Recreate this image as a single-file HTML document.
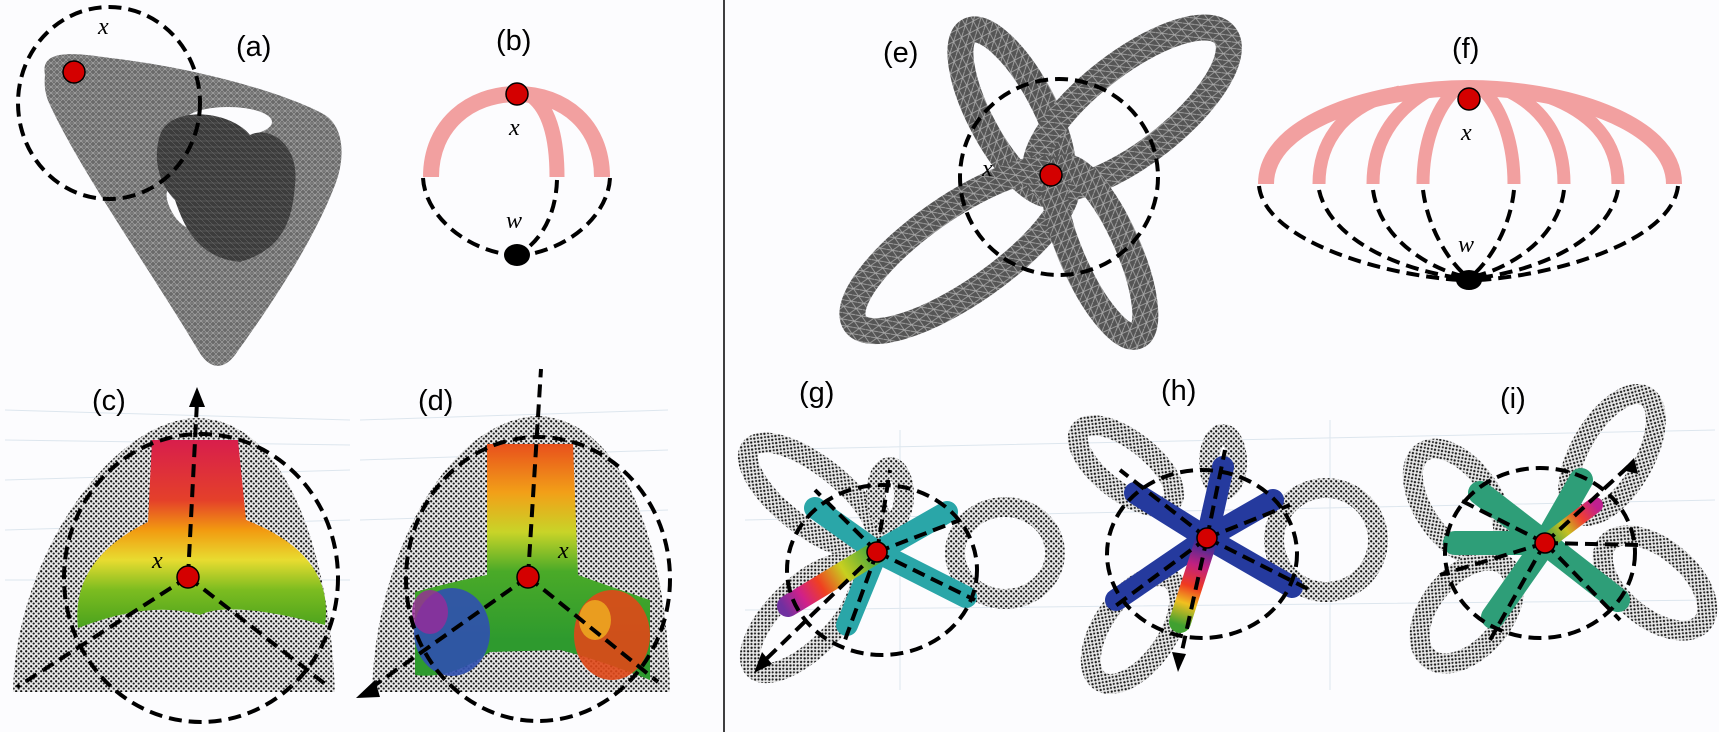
<!DOCTYPE html>
<html><head><meta charset="utf-8"><style>
html,body{margin:0;padding:0;background:#fcfcfe;}
svg{display:block;}
text{font-family:"Liberation Sans",sans-serif;}
.lbl{font-size:29px;fill:#000;}
.it{font-family:"Liberation Serif",serif;font-style:italic;font-size:24px;fill:#000;}
.dash{fill:none;stroke:#000;stroke-width:4;stroke-dasharray:13 7;}
</style></head><body>
<svg width="1719" height="732" viewBox="0 0 1719 732">
<defs>
 <pattern id="dots" width="5" height="5" patternUnits="userSpaceOnUse">
  <rect width="5" height="5" fill="#e8e8e8"/>
  <circle cx="1.2" cy="1.3" r="1.15" fill="#111"/>
  <circle cx="3.7" cy="3.6" r="1.05" fill="#222"/>
 </pattern>
 <pattern id="mesh" width="6" height="6" patternUnits="userSpaceOnUse">
  <rect width="6" height="6" fill="#6a6a6a"/>
  <path d="M0 0L6 6M6 0L0 6M0 3H6" stroke="#a8a8a8" stroke-width="0.6"/>
 </pattern>
 <pattern id="mesh2" width="9" height="9" patternUnits="userSpaceOnUse">
  <rect width="9" height="9" fill="#555"/>
  <path d="M0 0L9 9M0 4.5H9M4.5 0V9" stroke="#aaa" stroke-width="0.8"/>
 </pattern>
 <pattern id="mesh3" width="6" height="6" patternUnits="userSpaceOnUse">
  <rect width="6" height="6" fill="#3c3c3c"/>
  <path d="M0 0L6 6M0 3H6" stroke="#707070" stroke-width="0.5"/>
 </pattern>
 <linearGradient id="gc" x1="0" y1="440" x2="0" y2="640" gradientUnits="userSpaceOnUse">
  <stop offset="0" stop-color="#d81e4c"/><stop offset="0.3" stop-color="#e4402a"/>
  <stop offset="0.45" stop-color="#f29a10"/><stop offset="0.6" stop-color="#e8dc30"/>
  <stop offset="0.75" stop-color="#7cbc20"/><stop offset="1" stop-color="#3a9a1c"/>
 </linearGradient>
 <linearGradient id="gd" x1="0" y1="444" x2="0" y2="640" gradientUnits="userSpaceOnUse">
  <stop offset="0" stop-color="#e8501c"/><stop offset="0.25" stop-color="#f2a018"/>
  <stop offset="0.45" stop-color="#c8d428"/><stop offset="0.65" stop-color="#4aaa28"/>
  <stop offset="1" stop-color="#2e9a2e"/>
 </linearGradient>
 <linearGradient id="rbG" x1="877" y1="552" x2="785" y2="610" gradientUnits="userSpaceOnUse">
  <stop offset="0" stop-color="#3aa040"/><stop offset="0.35" stop-color="#c8d020"/>
  <stop offset="0.6" stop-color="#f04020"/><stop offset="0.8" stop-color="#d0208a"/><stop offset="1" stop-color="#7030a0"/>
 </linearGradient>
 <linearGradient id="rbH" x1="1207" y1="540" x2="1180" y2="625" gradientUnits="userSpaceOnUse">
  <stop offset="0" stop-color="#23309a"/><stop offset="0.3" stop-color="#c02080"/>
  <stop offset="0.55" stop-color="#f03a20"/><stop offset="0.75" stop-color="#f0c020"/><stop offset="1" stop-color="#40a030"/>
 </linearGradient>
 <linearGradient id="rbI" x1="1545" y1="543" x2="1595" y2="505" gradientUnits="userSpaceOnUse">
  <stop offset="0" stop-color="#2f9a4a"/><stop offset="0.4" stop-color="#c8c020"/>
  <stop offset="0.7" stop-color="#f04030"/><stop offset="1" stop-color="#c02090"/>
 </linearGradient>
</defs>

<line x1="724" y1="0" x2="724" y2="732" stroke="#000" stroke-width="1.5"/>

<g stroke="#dde6ee" stroke-width="1" fill="none">
 <path d="M5 410 L350 420 M5 440 L350 445 M5 480 L350 470 M5 530 L350 520 M5 580 L350 580 M360 420 L668 410 M360 460 L668 450 M360 520 L668 510"/>
 <path d="M745 450 L1715 430 M745 520 L1715 500 M745 610 L1715 600 M900 430 L900 690 M1330 420 L1330 690"/>
</g>

<!-- Panel (a) -->
<g>
 <path d="M45 75 C40 50 70 52 110 58 C200 68 290 95 325 115 C345 128 345 160 335 185 C310 250 260 320 235 355 C222 372 208 368 198 350 C150 270 80 170 50 105 C45 95 44 85 45 75 Z" fill="url(#mesh)"/>
 <ellipse cx="228" cy="122" rx="44" ry="15" fill="#fcfcfe"/>
 <ellipse cx="180" cy="208" rx="9" ry="22" fill="#fcfcfe" transform="rotate(-30 180 208)"/>
 <ellipse cx="275" cy="225" rx="8" ry="22" fill="#fcfcfe" transform="rotate(30 275 225)"/>
 <path d="M160 135 C170 105 230 110 250 135 C270 125 300 145 295 185 C292 225 280 250 240 262 C200 258 185 230 175 200 C160 185 152 160 160 135 Z" fill="url(#mesh3)"/>
 <ellipse cx="109" cy="103" rx="91" ry="96" class="dash"/>
 <circle cx="74" cy="72" r="11" fill="#d40000" stroke="#000" stroke-width="1.5"/>
 <text x="98" y="34" class="it">x</text>
 <text x="236" y="56" class="lbl">(a)</text>
</g>

<!-- Panel (b) -->
<g>
 <path d="M431 177 C431 125 470 94 517 94 C564 94 602 125 602 177" fill="none" stroke="#f2a0a0" stroke-width="16"/>
 <path d="M532 96 C550 110 557 140 557 177" fill="none" stroke="#f2a0a0" stroke-width="15"/>
 <path d="M423 178 C425 215 465 250 512 255" class="dash"/>
 <path d="M610 178 C608 215 570 248 525 255" class="dash"/>
 <path d="M557 180 C556 210 545 235 525 250" class="dash"/>
 <ellipse cx="517" cy="255" rx="13" ry="11" fill="#000"/>
 <circle cx="517" cy="94" r="11" fill="#d40000" stroke="#000" stroke-width="1.5"/>
 <text x="509" y="135" class="it">x</text>
 <text x="506" y="228" class="it">w</text>
 <text x="496" y="50" class="lbl">(b)</text>
</g>

<!-- Panel (c) -->
<g>
 <path d="M197 418 C290 420 330 560 335 692 L13 692 C15 560 110 420 197 418 Z" fill="url(#dots)"/>
 <path d="M152 440 L238 440 L246 520 Q335 555 325 625 Q230 600 200 615 Q150 600 78 628 Q70 560 148 522 Z" fill="url(#gc)"/>
 <ellipse cx="201" cy="578" rx="137" ry="144" class="dash"/>
 <path d="M188 577 L197 402 M188 577 L17 687 M188 577 L329 687" class="dash"/>
 <polygon points="197,387 189,407 205,407" fill="#000"/>
 <circle cx="188" cy="577" r="11" fill="#d40000" stroke="#000" stroke-width="1.5"/>
 <text x="152" y="568" class="it">x</text>
 <text x="92" y="410" class="lbl">(c)</text>
</g>

<!-- Panel (d) -->
<g>
 <path d="M538 416 C630 420 668 560 670 692 L372 692 C375 560 445 420 538 416 Z" fill="url(#dots)"/>
 <path d="M487 444 L573 444 L578 575 Q620 590 650 600 L650 680 Q600 660 560 650 L490 652 Q450 680 415 675 L415 592 Q460 580 487 575 Z" fill="url(#gd)"/>
 <ellipse cx="452" cy="632" rx="38" ry="44" fill="#3050b0" opacity="0.9"/>
 <ellipse cx="430" cy="612" rx="18" ry="22" fill="#9a2a9a" opacity="0.8"/>
 <ellipse cx="612" cy="635" rx="38" ry="45" fill="#e04818" opacity="0.9"/>
 <ellipse cx="595" cy="620" rx="16" ry="20" fill="#f0b020" opacity="0.8"/>
 <ellipse cx="538" cy="579" rx="132" ry="142" class="dash"/>
 <path d="M528 577 L541 369 M528 577 L368 690 M528 577 L658 682" class="dash"/>
 <polygon points="356,698 375,680 380,697" fill="#000"/>
 <circle cx="528" cy="577" r="11" fill="#d40000" stroke="#000" stroke-width="1.5"/>
 <text x="558" y="558" class="it">x</text>
 <text x="418" y="410" class="lbl">(d)</text>
</g>

<!-- Panel (e) -->
<g>
 <g fill="none" stroke="url(#mesh2)" stroke-width="26">
  <ellipse cx="1012" cy="112" rx="92" ry="32" transform="rotate(62 1012 112)"/>
  <ellipse cx="1132" cy="108" rx="118" ry="44" transform="rotate(-38 1132 108)"/>
  <ellipse cx="960" cy="250" rx="128" ry="42" transform="rotate(-35 960 250)"/>
  <ellipse cx="1100" cy="252" rx="92" ry="28" transform="rotate(66 1100 252)"/>
 </g>
 <ellipse cx="1059" cy="177" rx="99" ry="98" class="dash"/>
 <circle cx="1051" cy="175" r="11" fill="#d40000" stroke="#000" stroke-width="1.5"/>
 <text x="982" y="176" class="it">x</text>
 <text x="883" y="62" class="lbl">(e)</text>
</g>

<!-- Panel (f) -->
<g>
 <g fill="none" stroke="#f2a0a0">
  <path d="M1266 184 C1266 120 1380 88 1469 88 C1558 88 1674 120 1674 184" stroke-width="16"/>
  <path d="M1400 92 C1345 105 1319 140 1319 184" stroke-width="13"/>
  <path d="M1430 90 C1395 110 1373 140 1373 184" stroke-width="13"/>
  <path d="M1455 90 C1435 110 1423 145 1423 184" stroke-width="13"/>
  <path d="M1483 90 C1503 110 1514 145 1514 184" stroke-width="13"/>
  <path d="M1510 92 C1545 110 1564 140 1564 184" stroke-width="13"/>
  <path d="M1540 94 C1590 110 1618 140 1618 184" stroke-width="13"/>
 </g>
 <g class="dash">
  <path d="M1259 186 C1265 240 1380 275 1460 280"/>
  <path d="M1319 190 C1330 240 1400 270 1460 278"/>
  <path d="M1373 190 C1380 240 1430 268 1462 276"/>
  <path d="M1423 190 C1428 230 1450 262 1465 275"/>
  <path d="M1514 190 C1510 230 1488 262 1473 275"/>
  <path d="M1564 190 C1558 240 1508 268 1476 276"/>
  <path d="M1618 190 C1608 240 1540 270 1478 278"/>
  <path d="M1678 186 C1672 240 1560 275 1478 280"/>
 </g>
 <ellipse cx="1469" cy="280" rx="13" ry="10" fill="#000"/>
 <circle cx="1469" cy="99" r="11" fill="#d40000" stroke="#000" stroke-width="1.5"/>
 <text x="1461" y="140" class="it">x</text>
 <text x="1458" y="252" class="it">w</text>
 <text x="1452" y="58" class="lbl">(f)</text>
</g>

<!-- Panel (g) -->
<g>
 <g fill="none" stroke="url(#dots)" stroke-width="20">
  <ellipse cx="812" cy="496" rx="78" ry="30" transform="rotate(38 812 496)"/>
  <ellipse cx="1005" cy="553" rx="50" ry="46"/>
  <ellipse cx="805" cy="618" rx="72" ry="30" transform="rotate(-45 805 618)"/>
  <ellipse cx="890" cy="495" rx="14" ry="28"/>
 </g>
 <g stroke-width="22" stroke-linecap="round" fill="none">
  <path d="M877 552 L815 508 M877 552 L947 512 M877 552 L966 597 M877 552 L847 625" stroke="#2aa6a8"/>
  <path d="M877 552 L788 606" stroke="url(#rbG)"/>
 </g>
 <ellipse cx="882" cy="570" rx="95" ry="85" class="dash"/>
 <path d="M877 552 L760 665 M877 552 L815 490 M877 552 L890 470 M877 552 L960 520 M877 552 L975 600 M877 552 L845 640" class="dash"/>
 <polygon points="754,673 762,652 772,664" fill="#000"/>
 <circle cx="877" cy="552" r="10" fill="#d40000" stroke="#000" stroke-width="1.5"/>
 <text x="799" y="402" class="lbl">(g)</text>
</g>

<!-- Panel (h) -->
<g>
 <g fill="none" stroke="url(#dots)" stroke-width="20">
  <ellipse cx="1126" cy="466" rx="58" ry="25" transform="rotate(38 1126 466)"/>
  <ellipse cx="1326" cy="540" rx="52" ry="52"/>
  <ellipse cx="1135" cy="630" rx="62" ry="32" transform="rotate(-55 1135 630)"/>
  <ellipse cx="1223" cy="462" rx="14" ry="28"/>
 </g>
 <g stroke-width="22" stroke-linecap="round" fill="none">
  <path d="M1207 538 L1135 493 M1207 538 L1273 500 M1207 538 L1292 587 M1207 538 L1116 600 M1207 538 L1223 467" stroke="#253a9e"/>
  <path d="M1207 538 L1180 622" stroke="url(#rbH)"/>
 </g>
 <ellipse cx="1202" cy="554" rx="95" ry="84" class="dash"/>
 <path d="M1207 538 L1180 660 M1207 538 L1120 470 M1207 538 L1225 450 M1207 538 L1290 505 M1207 538 L1310 590 M1207 538 L1110 610" class="dash"/>
 <polygon points="1178,672 1172,652 1186,654" fill="#000"/>
 <circle cx="1207" cy="538" r="10" fill="#d40000" stroke="#000" stroke-width="1.5"/>
 <text x="1161" y="400" class="lbl">(h)</text>
</g>

<!-- Panel (i) -->
<g>
 <g fill="none" stroke="url(#dots)" stroke-width="20">
  <ellipse cx="1612" cy="455" rx="68" ry="32" transform="rotate(-60 1612 455)"/>
  <ellipse cx="1458" cy="503" rx="62" ry="34" transform="rotate(55 1458 503)"/>
  <ellipse cx="1467" cy="612" rx="60" ry="36" transform="rotate(-50 1467 612)"/>
  <ellipse cx="1655" cy="583" rx="62" ry="34" transform="rotate(40 1655 583)"/>
 </g>
 <g stroke-width="24" stroke-linecap="round" fill="none">
  <path d="M1545 543 L1480 493 M1545 543 L1581 480 M1545 543 L1493 617 M1545 543 L1618 600 M1545 543 L1455 543" stroke="#2e9e78"/>
  <path d="M1545 543 L1595 505" stroke="url(#rbI)" stroke-width="16"/>
 </g>
 <ellipse cx="1540" cy="553" rx="95" ry="85" class="dash"/>
 <path d="M1545 543 L1630 465 M1545 543 L1460 500 M1545 543 L1440 575 M1545 543 L1490 640 M1545 543 L1620 620 M1545 543 L1640 545" class="dash"/>
 <polygon points="1634,458 1622,470 1638,474" fill="#000"/>
 <circle cx="1545" cy="543" r="10" fill="#d40000" stroke="#000" stroke-width="1.5"/>
 <text x="1500" y="408" class="lbl">(i)</text>
</g>
</svg>
</body></html>
